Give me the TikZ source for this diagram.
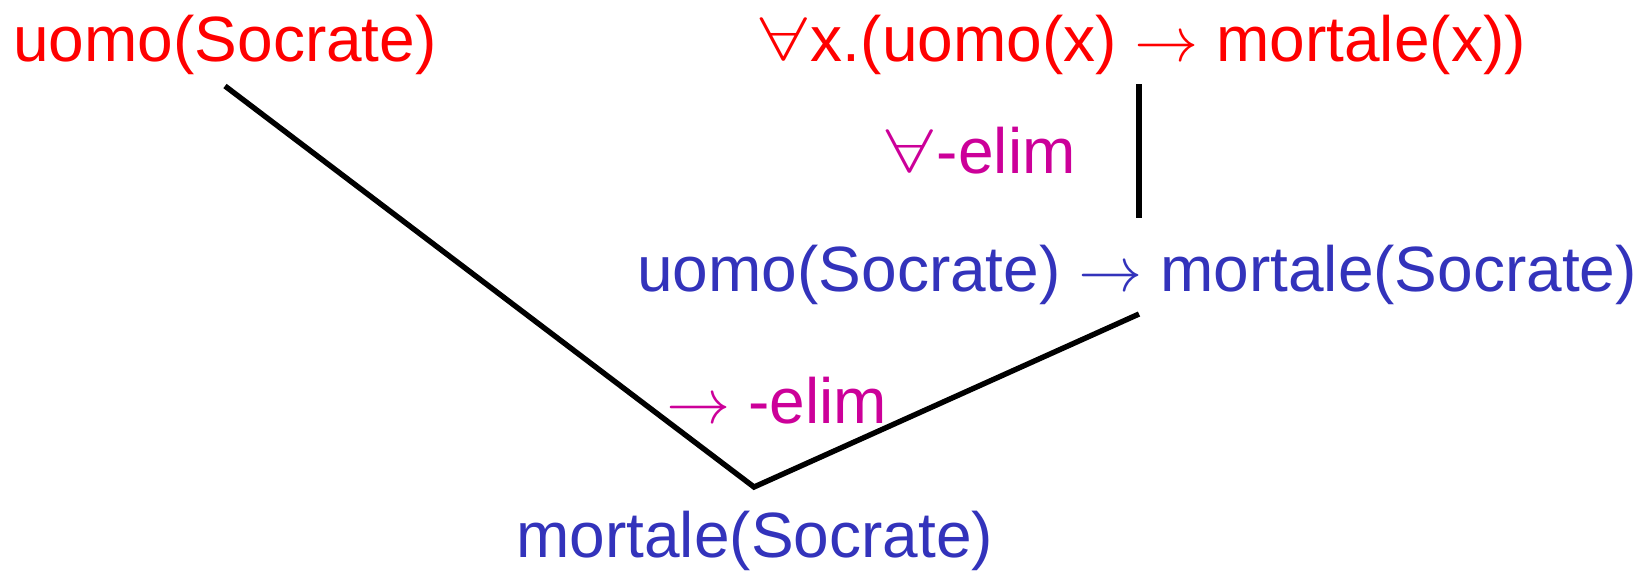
\documentclass[tikz,border=0pt]{standalone}
\usepackage{fontspec}
\usepackage{unicode-math}
\setmainfont{Liberation Sans}
\setmathfont{Latin Modern Math}
\definecolor{premred}{RGB}{255,0,0}
\definecolor{derblue}{RGB}{51,51,187}
\definecolor{rulemag}{RGB}{204,0,153}
\newcommand{\wideall}{\scalebox{1.28}[1]{$\forall$}}

\begin{document}
\begin{tikzpicture}[
    x=0.5pt, y=-0.5pt,
    font=\fontsize{32}{38}\selectfont,
    fml/.style={inner sep=0pt, anchor=base west},
    prem/.style={fml, text=premred},
    der/.style={fml, text=derblue},
    rul/.style={fml, text=rulemag},
    ln/.style={line width=2.7pt}
]
\useasboundingbox (0,0) rectangle (1643,570);

% premesse
\node[prem] (P1) at (13,61) {uomo(Socrate)};
\node[prem] (P2) at (756,61) {\wideall x.(uomo(x) $\rightarrow$ mortale(x))};

% conclusioni
\node[der] (D1) at (637,291) {uomo(Socrate) $\rightarrow$ mortale(Socrate)};
\node[der] (D2) at (516,557) {mortale(Socrate)};

% regole
\node[rul] (R1) at (882,173) {\wideall-elim};
\node[rul] (R2) at (666,423) {$\rightarrow$ -elim};

% estremi delle linee
\coordinate (P1e) at (225,86);
\coordinate (P2e) at (1139,84);
\coordinate (D1t) at (1139,218);
\coordinate (D1e) at (1139,314);
\coordinate (D2t) at (754,487);

\draw[ln] (P2e) -- (D1t);
\draw[ln] (P1e) -- (D2t) -- (D1e);
\end{tikzpicture}
\end{document}
